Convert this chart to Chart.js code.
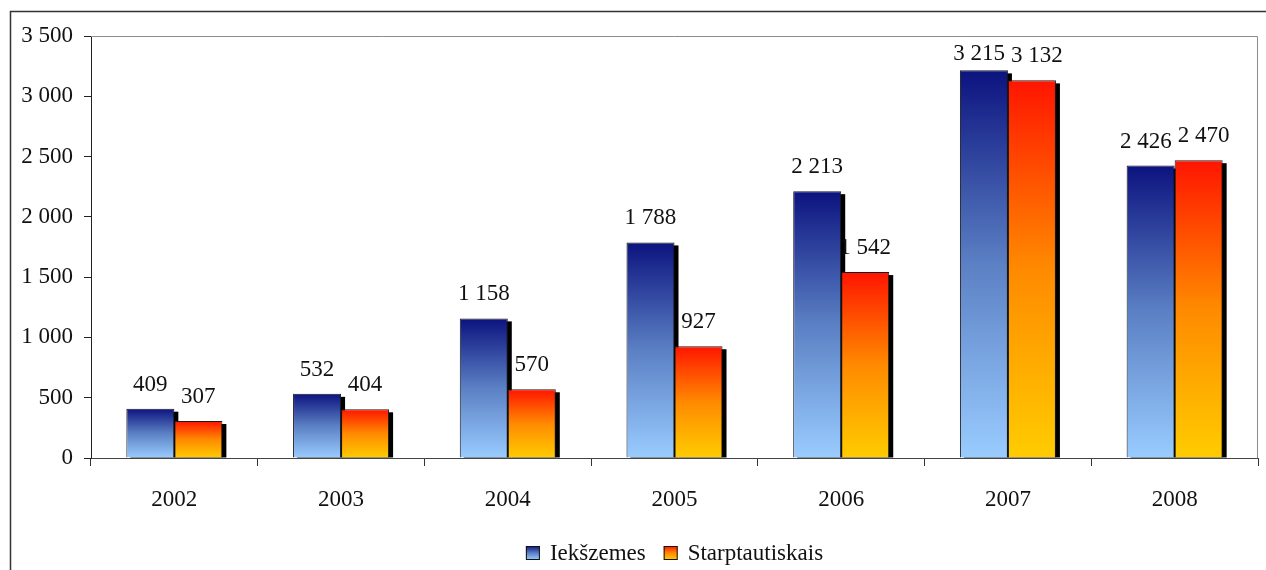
<!DOCTYPE html>
<html>
<head>
<meta charset="utf-8">
<style>
  html,body{margin:0;padding:0;background:#fff;}
  #wrap{width:1266px;height:570px;position:relative;}
</style>
<script src="https://cdn.jsdelivr.net/npm/chart.js@4/dist/chart.umd.min.js"></script>
</head>
<body>
<div id="wrap"><canvas id="c" width="1266" height="570"></canvas></div>
<script>
// data
const years=['2002','2003','2004','2005','2006','2007','2008'];
const seriesNames=['Iekšzemes','Starptautiskais'];
const iekszemes=[409,532,1158,1788,2213,3215,2426];
const starptautiskais=[307,404,570,927,1542,3132,2470];
const yMax=3500, yStep=500;

const FONT='"Liberation Serif", "DejaVu Serif", serif';
const FS=23;
const fmt=v=>String(v).replace(/\B(?=(\d{3})+(?!\d))/g,' ');
const blueStops=['#0c137f','#5b80c4','#99ccff'];
const redStops=['#ff1500','#ff8a00','#ffcc00'];

function grad(ctx,y0,y1,stops){
  const g=ctx.createLinearGradient(0,y0,0,y1);
  g.addColorStop(0,stops[0]); g.addColorStop(0.5,stops[1]); g.addColorStop(1,stops[2]);
  return g;
}
function barFill(stops){
  return c=>{
    const ch=c.chart, y=ch.scales&&ch.scales.y;
    if(!y||!ch.chartArea||c.raw==null) return stops[2];
    return grad(ch.ctx,y.getPixelForValue(c.raw),y.getPixelForValue(0),stops);
  };
}

// black drop shadow behind each bar, like the old office charts
const shadowPlugin={id:'shadow',beforeDatasetsDraw(ch){
  const ctx=ch.ctx; ctx.save(); ctx.fillStyle='#000';
  ch.data.datasets.forEach((ds,i)=>{
    ch.getDatasetMeta(i).data.forEach(b=>{
      const p=b.getProps(['x','y','base','width'],true);
      ctx.fillRect(p.x-p.width/2+4,p.y+3,p.width,p.base-p.y-3);
    });
  });
  ctx.restore();
}};

// frame, plot border, value labels, legend
const decoPlugin={id:'deco',afterDraw(ch){
  const ctx=ch.ctx, a=ch.chartArea; ctx.save();
  // outer frame (top + left)
  ctx.strokeStyle='#333'; ctx.lineWidth=1.5;
  ctx.beginPath(); ctx.moveTo(10.5,570); ctx.lineTo(10.5,11.5); ctx.lineTo(1266,11.5); ctx.stroke();
  // plot area border top/right
  ctx.strokeStyle='#8c8c8c'; ctx.lineWidth=1;
  ctx.beginPath(); ctx.moveTo(a.left,a.top+0.5); ctx.lineTo(a.right-0.5,a.top+0.5); ctx.lineTo(a.right-0.5,a.bottom); ctx.stroke();
  // value labels
  ctx.font=FS+'px '+FONT; ctx.fillStyle='#111'; ctx.textAlign='center'; ctx.textBaseline='middle';
  const m0=ch.getDatasetMeta(0).data, m1=ch.getDatasetMeta(1).data;
  years.forEach((_,k)=>{
    const b0=m0[k], b1=m1[k];
    const t0=fmt(iekszemes[k]), t1=fmt(starptautiskais[k]);
    let x0=b0.x, x1=b1.x;
    const w0=ctx.measureText(t0).width, w1=ctx.measureText(t1).width;
    const y0=Math.max(b0.y-24,a.top+18), y1=Math.max(b1.y-24,a.top+18);
    if(Math.abs(y0-y1)<24){
      const need=(w0+w1)/2+6-(x1-x0);
      if(need>0){x0-=need/2; x1+=need/2;}
    }
    ctx.fillText(t0,x0,y0); ctx.fillText(t1,x1,y1);
  });
  // legend
  ctx.textAlign='left';
  const ly=553, box=14, gap=10, sep=18;
  const widths=seriesNames.map(n=>box+gap+ctx.measureText(n).width);
  let x=(a.left+a.right)/2-(widths[0]+widths[1]+sep)/2;
  [blueStops,redStops].forEach((st,i)=>{
    ctx.fillStyle=grad(ctx,ly-box/2,ly+box/2,st);
    ctx.fillRect(x,ly-box/2,box,box);
    ctx.strokeStyle='#111'; ctx.lineWidth=1; ctx.strokeRect(x+0.5,ly-box/2+0.5,box-1,box-1);
    ctx.fillStyle='#111'; ctx.fillText(seriesNames[i],x+box+gap,ly+1);
    x+=widths[i]+sep;
  });
  ctx.restore();
}};

new Chart(document.getElementById('c'),{
  type:'bar',
  data:{labels:years,datasets:[
    {label:seriesNames[0],data:iekszemes,backgroundColor:barFill(blueStops),borderColor:'#1a1a1a',borderWidth:1,borderSkipped:'bottom'},
    {label:seriesNames[1],data:starptautiskais,backgroundColor:barFill(redStops),borderColor:'#1a1a1a',borderWidth:1,borderSkipped:'bottom'}
  ]},
  options:{
    responsive:false,animation:false,
    layout:{padding:{left:0,top:36,right:8,bottom:0}},
    datasets:{bar:{categoryPercentage:0.576,barPercentage:1}},
    plugins:{legend:{display:false},tooltip:{enabled:false}},
    scales:{
      x:{
        afterFit:s=>{s.height=112;},
        grid:{display:true,drawOnChartArea:false,offset:true,tickLength:8,color:'#333'},
        border:{color:'#444',width:1},
        ticks:{font:{family:FONT,size:FS},color:'#111',padding:20}
      },
      y:{
        min:0,max:yMax,
        afterFit:s=>{s.width=91;},
        grid:{display:true,drawOnChartArea:false,tickLength:7,color:'#222'},
        border:{color:'#222',width:1},
        ticks:{stepSize:yStep,font:{family:FONT,size:FS},color:'#111',padding:11,callback:v=>fmt(v)}
      }
    }
  },
  plugins:[shadowPlugin,decoPlugin]
});
</script>
</body>
</html>
